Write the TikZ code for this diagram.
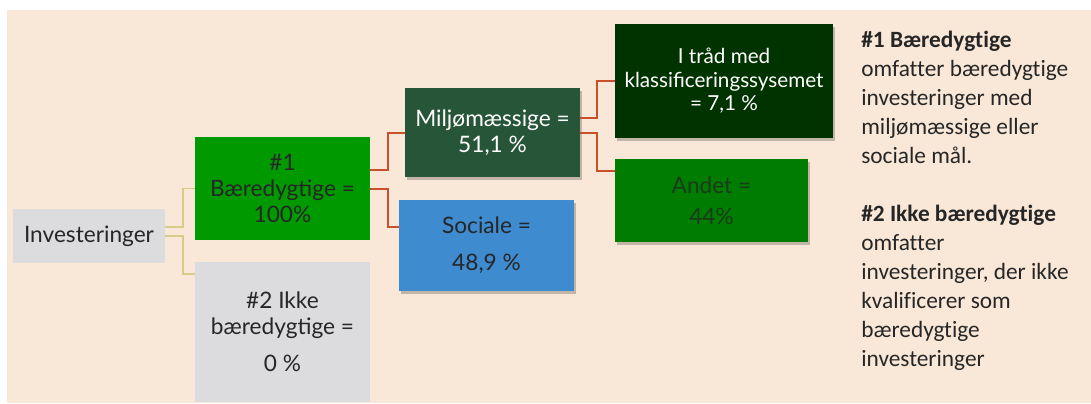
\documentclass[tikz,border=0pt]{standalone}
\usepackage{fontspec}
\setmainfont{Lato}
\newfontfamily\notefont[Ligatures=NoCommon]{Carlito}
\usepackage{tikz}
\usetikzlibrary{calc,shadows}

\definecolor{bgbeige}{HTML}{F9E8D8}
\definecolor{boxgray}{HTML}{DCDCDE}
\definecolor{susgreen}{HTML}{009900}
\definecolor{envgreen}{HTML}{265538}
\definecolor{socblue}{HTML}{3E8BD0}
\definecolor{taxgreen}{HTML}{003300}
\definecolor{othgreen}{HTML}{007D00}
\definecolor{othtext}{HTML}{1C3A1C}
\definecolor{lineyellow}{HTML}{D8CC8C}
\definecolor{linered}{HTML}{C8502A}
\definecolor{inkgray}{HTML}{262626}

\begin{document}
\begin{tikzpicture}[x=0.75pt,y=-0.75pt,
	every node/.style={font=\fontsize{17}{19.5}\selectfont},
	boxsize/.style 2 args={minimum width=#1*0.75pt, minimum height=#2*0.75pt},
	box/.style={inner sep=0pt, align=center, text=inkgray},
	shadowed/.style={drop shadow={shadow xshift=1.5pt, shadow yshift=-2pt, opacity=0.22, fill=black}},
	yelline/.style={draw=lineyellow, line width=1.2pt},
	redline/.style={draw=linered, line width=1.5pt},
	note/.style={inner sep=0pt, align=left, text=inkgray, font=\notefont\fontsize{17.5}{21.75}\selectfont}]
	
	%---------------- CANVAS ----------------
	\useasboundingbox (0,0) rectangle (1091,403);
	\fill[bgbeige] (7,10) rectangle (1091,403);
	
	%---------------- TREE BOXES ----------------
	\node[box, fill=boxgray, boxsize={152}{54}] (inv) at (89,236) {Investeringer};
	\node[box, fill=susgreen, boxsize={175}{103}] (sus) at (282.5,188.5) {\#1\\Bæredygtige =\\100\%};
	\node[box, fill=boxgray, boxsize={175}{140}] (nonsus) at (282.5,332) {\#2 Ikke\\bæredygtige =\\[8pt]0 \%};
	
	\node[box, shadowed, fill=envgreen, text=white, boxsize={175}{89}] (env) at (492.5,132.5) {Miljømæssige =\\51,1 \%};
	\node[box, shadowed, fill=socblue, boxsize={175}{91}] (soc) at (486.5,245.5) {Sociale =\\[8pt]48,9 \%};
	
	\node[box, shadowed, fill=taxgreen, text=white, boxsize={218}{114},
		font=\fontsize{15.5}{17.6}\selectfont] (tax) at (724,81) {I tråd med\\klassificeringssysemet\\= 7,1 \%};
	\node[box, shadowed, fill=othgreen, text=othtext, boxsize={193}{83}] (other) at (711.5,200.5) {Andet =\\[4pt]44\%};
	
	%---------------- CONNECTORS ----------------
	\draw[yelline] ($(inv.east)+(0,-9)$) -- ++(18,0) |- (sus.west);
	\draw[yelline] (inv.east) -- ++(18,0) |- ($(nonsus.north west)+(0,12)$);
	
	\draw[redline] ($(sus.east)+(0,-19)$) -- ++(18,0) |- (env.west);
	\draw[redline] (sus.east) -- ++(18,0) |- ($(soc.north west)+(0,27)$);
	
	\draw[redline] ($(env.east)+(0,-15)$) -- ++(17,0) |- (tax.west);
	\draw[redline] (env.east) -- ++(17,0) |- ($(other.north west)+(0,12)$);
	
	%---------------- NOTES ----------------
	\node[note, anchor=north west] (notes) at (861,31) {\textbf{\#1 Bæredygtige}\\
		omfatter bæredygtige\\investeringer med\\miljømæssige eller\\sociale mål.\\[21.75pt]
		\textbf{\#2 Ikke bæredygtige}\\omfatter\\investeringer, der ikke\\kvalificerer som\\bæredygtige\\investeringer};
\end{tikzpicture}
\end{document}
